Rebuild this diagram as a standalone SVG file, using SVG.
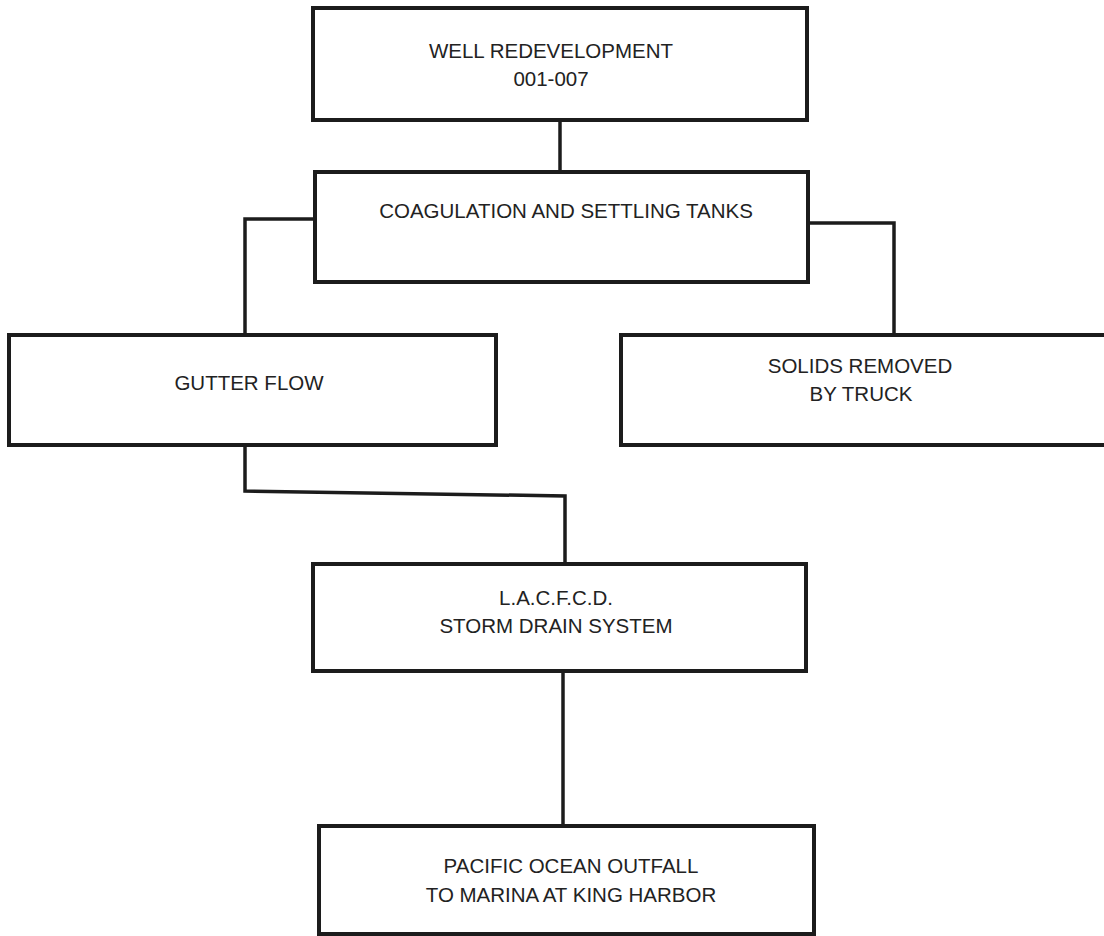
<svg xmlns="http://www.w3.org/2000/svg" width="1104" height="936" viewBox="0 0 1104 936">
<style>
.box{fill:none;stroke:#1c1c1c;stroke-width:4;stroke-linejoin:miter}
.conn{fill:none;stroke:#1c1c1c;stroke-width:3.5;stroke-linejoin:miter}
text{font-family:"Liberation Sans",Arial,sans-serif;font-size:20.5px;fill:#222;text-anchor:middle}
</style>
<rect width="1104" height="936" fill="#ffffff"/>
<g id="connectors">
<path class="conn" d="M560,120 L560,172"/>
<path class="conn" d="M315,219 L245,219 L245,335"/>
<path class="conn" d="M808,223 L894,223 L894,335"/>
<path class="conn" d="M245,445 L245,491 L565,496 L565,564"/>
<path class="conn" d="M563,671 L563,826"/>
</g>
<g id="well">
<rect class="box" x="313" y="8" width="494" height="112"/>
<text x="551" y="58">WELL REDEVELOPMENT</text>
<text x="551" y="86">001-007</text>
</g>
<g id="coagulation">
<rect class="box" x="315" y="172" width="493" height="110"/>
<text x="566" y="218">COAGULATION AND SETTLING TANKS</text>
</g>
<g id="gutter">
<rect class="box" x="9" y="335" width="487" height="110"/>
<text x="249" y="390">GUTTER FLOW</text>
</g>
<g id="solids">
<rect class="box" x="621" y="335" width="520" height="110"/>
<text x="860" y="373">SOLIDS REMOVED</text>
<text x="861" y="401">BY TRUCK</text>
</g>
<g id="storm">
<rect class="box" x="313" y="564" width="493" height="107"/>
<text x="556" y="605">L.A.C.F.C.D.</text>
<text x="556" y="633">STORM DRAIN SYSTEM</text>
</g>
<g id="pacific">
<rect class="box" x="319" y="826" width="495" height="108"/>
<text x="571" y="873">PACIFIC OCEAN OUTFALL</text>
<text x="571" y="902">TO MARINA AT KING HARBOR</text>
</g>
</svg>
